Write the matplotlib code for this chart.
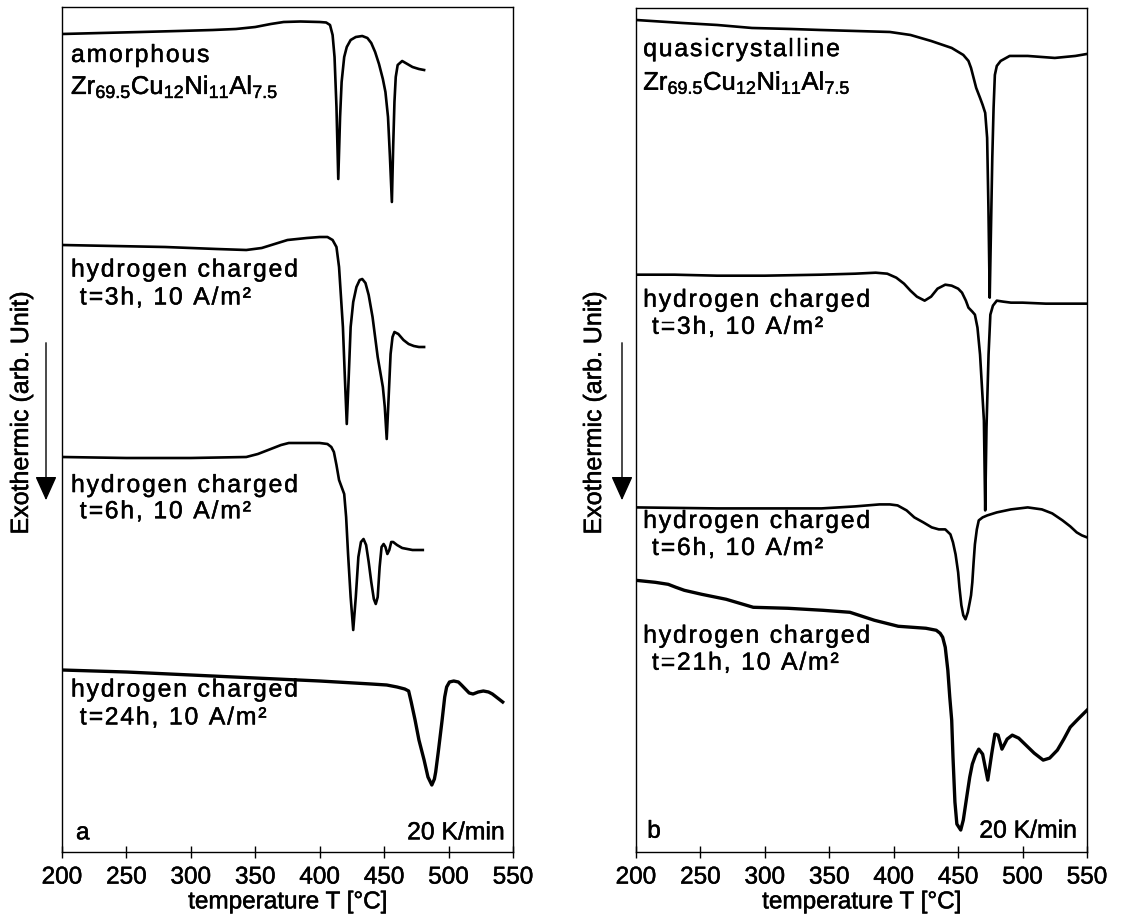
import matplotlib
matplotlib.use("Agg")
import matplotlib.pyplot as plt
import matplotlib.patheffects as pe
from matplotlib.font_manager import FontProperties, findfont, get_font
from matplotlib.patches import FancyArrowPatch

plt.rcParams['font.family'] = ['Liberation Sans', 'DejaVu Sans']
plt.rcParams['mathtext.default'] = 'regular'
plt.rcParams['font.size'] = 17

# ---------------- data (heat flow, arb. units; axis runs downward = exothermic) ----------------
# Panel a: amorphous Zr69.5Cu12Ni11Al7.5
a_amorph_T = [200, 230, 261, 290, 317, 335, 350, 362, 372, 385, 400, 405, 408, 410, 411.5, 413, 414.4, 415.8,
              417, 419, 421, 424, 428, 433, 437, 440, 443, 446, 449, 451, 453, 454.5, 456, 457, 458, 459,
              460.5, 464, 468, 472, 477, 481]
a_amorph_S = [27, 26, 25, 24, 23, 22, 20, 17, 15, 14.5, 15, 15.5, 18, 28, 50, 100, 172, 110,
              75, 50, 40, 33, 30, 29, 31, 36, 45, 57, 72, 85, 110, 150, 195, 140, 95, 70,
              58, 54, 57, 60, 62, 63]

a_3h_T = [200, 240, 280, 320, 343, 355, 365, 375, 390, 400, 406, 410, 413, 415, 416.5, 418, 419.5, 421,
          422.5, 424, 426, 428.5, 431, 433, 435.5, 438, 441, 443, 445, 447, 449, 450.5, 452, 453.5, 455,
          456.5, 458, 461, 465, 469, 473, 477, 481]
a_3h_S = [238, 239, 240, 242, 243, 241, 237, 233, 231, 230, 230, 233, 240, 260, 290, 320, 370, 417,
          370, 320, 295, 280, 273, 272, 276, 288, 310, 330, 350, 365, 380, 400, 432, 390, 347,
          330, 325, 327, 333, 337, 339, 340, 340]

a_6h_T = [200, 250, 300, 343, 352, 362, 370, 376, 390, 400, 406, 409, 411, 413, 415, 417, 419, 420.5,
          422, 424, 426, 428, 430, 432, 434, 436, 438, 440, 442, 443.5, 445, 446.5, 448, 449.6, 451,
          452.5, 454, 455.5, 457, 460, 464, 468, 472, 476, 480]
a_6h_S = [450, 451, 451, 450, 447, 442, 438, 436, 436, 436, 437, 440, 445, 458, 473, 480, 487, 510,
          547, 590, 623, 590, 550, 535, 532, 538, 555, 575, 592, 597, 590, 560, 540, 537, 540,
          547, 543, 535, 535, 538, 541, 542, 543, 543, 543]

a_24h_T = [200, 250, 300, 350, 400, 440, 452, 460, 466, 469, 471, 474, 477, 481, 484, 487, 489, 490,
           492, 495, 497, 498.5, 500.7, 504, 507.6, 510, 513, 516, 519, 523, 527, 531, 534, 538, 542]
a_24h_S = [663, 665, 668, 671, 674, 677, 678, 680, 682, 684, 695, 713, 733, 753, 770, 778, 772, 765,
           745, 713, 690, 680, 675, 674, 675, 678, 682, 686, 687, 685, 684, 685, 687, 691, 695]

# Panel b: quasicrystalline Zr69.5Cu12Ni11Al7.5
b_qc_T = [200, 236, 263, 290, 320, 343, 370, 397, 413, 429, 445, 454, 458, 460, 462, 464, 467, 469, 471,
          472.5, 473.5, 474.5, 475.5, 476.5, 477.5, 478.5, 480, 483, 490, 504, 525, 541, 550]
b_qc_S = [12, 15, 17, 20, 21, 22, 23, 24, 27, 33, 40, 47, 53, 60, 70, 80, 90, 97, 105,
          130, 200, 290, 220, 150, 100, 67, 58, 53, 48, 48, 50, 48, 46]

b_3h_T = [200, 230, 263, 300, 343, 370, 386, 395, 402, 408, 413, 418, 424, 429, 434, 440, 445, 450, 453,
          456, 458, 461, 463, 465, 467, 468.5, 470, 471, 472, 473.6, 475, 477, 480, 485, 491, 500, 518,
          535, 550]
b_3h_S = [267, 267, 268, 268, 267, 266, 265, 266, 270, 276, 283, 289, 293, 289, 281, 277, 278, 281, 285,
          293, 300, 304, 307, 320, 347, 380, 413, 503, 420, 347, 307, 298, 293, 294, 295, 295, 296,
          296, 296]

b_6h_T = [200, 263, 300, 344, 370, 389, 397, 403, 410, 416, 423, 429.5, 435, 440, 444, 446, 448, 450, 451,
          452.5, 454, 455.7, 457.5, 459, 460, 461, 462, 463, 464.5, 466, 469, 472.6, 480, 491, 504, 515,
          523, 531, 537, 542, 546, 550]
b_6h_S = [500, 501, 501, 501, 499, 497, 497, 498, 503, 510, 515, 520, 522, 522, 527, 535, 547, 565, 580,
          598, 608, 612, 605, 595, 588, 575, 555, 537, 522, 513, 510, 508, 505, 502, 500, 502,
          506, 513, 519, 525, 528, 530]

b_21h_T = [200, 215, 225, 231, 237.5, 251, 270, 291, 318, 345, 366, 385, 403.5, 425, 433, 436, 438, 440,
           442, 443.5, 445, 446, 447.5, 449, 452, 454, 457, 459, 461, 463.5, 466, 469, 471, 473, 474.5,
           476, 478.5, 481, 484, 488, 492, 497, 502.6, 509, 516, 521, 527, 532, 537, 543, 550]
b_21h_S = [573, 575, 577, 580, 583, 587, 592, 600, 601, 603, 605, 613, 619, 621, 623, 626, 630, 640,
           663, 690, 713, 750, 795, 817, 823, 813, 787, 770, 757, 748, 742, 747, 760, 773, 760,
           747, 727, 728, 742, 732, 728, 731, 738, 746, 753, 751, 743, 732, 720, 712, 703]

x_ticks = [200, 250, 300, 350, 400, 450, 500, 550]
x_label = "temperature T [°C]"
y_label = "Exothermic (arb. Unit)"
alloy = "Zr$_{69.5}$Cu$_{12}$Ni$_{11}$Al$_{7.5}$"

# ---------------- figure ----------------
W, H = 1121, 917
fig = plt.figure(figsize=(W / 100, H / 100), dpi=100)
THICK = [pe.withStroke(linewidth=0.35, foreground='black')]

def px_axes(x0, x1, y0, y1):
    return fig.add_axes([x0 / W, 1 - y1 / H, (x1 - x0) / W, (y1 - y0) / H])

axA = px_axes(62, 513, 7, 852)
axB = px_axes(636, 1087, 8, 852)

for ax in (axA, axB):
    ax.set_xlim(200, 550)
    ax.set_ylim(845, 0)   # exothermic signal plotted downward
    ax.set_xticks(x_ticks)
    ax.set_yticks([])
    ax.tick_params(axis='x', direction='inout', length=9, width=1.0, labelsize=17.5, pad=6)
    for t in ax.get_xticklabels():
        t.set_path_effects(THICK)
    for s in ax.spines.values():
        s.set_linewidth(1.0)
    ax.set_xlabel(x_label, fontsize=17.5, labelpad=2, path_effects=THICK)

lw = 1.9
axA.plot(a_amorph_T, a_amorph_S, color='black', lw=lw)
axA.plot(a_3h_T, a_3h_S, color='black', lw=lw)
axA.plot(a_6h_T, a_6h_S, color='black', lw=lw)
axA.plot(a_24h_T, a_24h_S, color='black', lw=2.4)

axB.plot(b_qc_T, b_qc_S, color='black', lw=lw)
axB.plot(b_3h_T, b_3h_S, color='black', lw=lw)
axB.plot(b_6h_T, b_6h_S, color='black', lw=lw)
axB.plot(b_21h_T, b_21h_S, color='black', lw=2.4)

# letter-spaced text (the original labels are set with wide tracking)
LBL_SIZE = 17.8
TRACK = 1.35  # extra points between characters
_font = get_font(findfont(FontProperties(family='Liberation Sans')))

def tracked(ax, x, y, s, size=LBL_SIZE, track=TRACK):
    _font.set_size(size, 72)
    off = 0.0
    for ch in s:
        if ch != ' ':
            ax.annotate(ch, xy=(x, y), xycoords='axes fraction', xytext=(off, 0),
                        textcoords='offset points', fontsize=size, va='baseline', ha='left',
                        family='Liberation Sans', path_effects=THICK)
        g = _font.load_char(ord(ch))
        off += g.linearHoriAdvance / 65536.0 + track

def plain(ax, x, y, s, size=LBL_SIZE, **kw):
    ax.text(x, y, s, transform=ax.transAxes, fontsize=size, va='baseline', ha='left',
            path_effects=THICK, **kw)

# panel a labels (baselines)
tracked(axA, 0.020, 0.935, "amorphous")
plain(axA, 0.020, 0.897, alloy, size=18.4)
tracked(axA, 0.020, 0.681, "hydrogen charged")
tracked(axA, 0.020, 0.648, " t=3h, 10 A/m²")
tracked(axA, 0.020, 0.426, "hydrogen charged")
tracked(axA, 0.020, 0.395, " t=6h, 10 A/m²")
tracked(axA, 0.020, 0.184, "hydrogen charged")
tracked(axA, 0.020, 0.151, " t=24h, 10 A/m²")
plain(axA, 0.031, 0.015, "a", size=17.5)
axA.text(0.982, 0.015, "20 K/min", transform=axA.transAxes, fontsize=17.8, va='baseline',
         ha='right', path_effects=THICK)

# panel b labels (baselines)
tracked(axB, 0.016, 0.943, "quasicrystalline")
plain(axB, 0.016, 0.903, alloy, size=18.4)
tracked(axB, 0.016, 0.646, "hydrogen charged")
tracked(axB, 0.016, 0.614, " t=3h, 10 A/m²")
tracked(axB, 0.016, 0.384, "hydrogen charged")
tracked(axB, 0.016, 0.352, " t=6h, 10 A/m²")
tracked(axB, 0.016, 0.248, "hydrogen charged")
tracked(axB, 0.016, 0.216, " t=21h, 10 A/m²")
plain(axB, 0.025, 0.017, "b", size=17.5)
axB.text(0.978, 0.017, "20 K/min", transform=axB.transAxes, fontsize=17.8, va='baseline',
         ha='right', path_effects=THICK)

# y labels and arrows (figure coordinates)
for xl, xa in ((21, 46), (594, 622)):
    fig.text(xl / W, 1 - 413 / H, y_label, rotation=90, fontsize=18, ha='center', va='center',
             path_effects=THICK)
    fig.add_artist(FancyArrowPatch(
        (xa / W, 1 - 340 / H), (xa / W, 1 - 503 / H), transform=fig.transFigure,
        arrowstyle='-|>,head_length=1.0,head_width=0.45', mutation_scale=15,
        color='black', lw=1.0))

fig.savefig("out.png", dpi=100)
